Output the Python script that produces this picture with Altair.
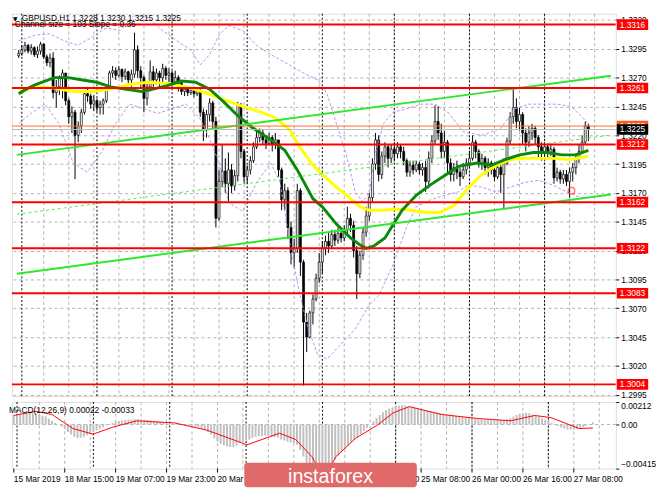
import altair as alt
import pandas as pd

FONT = "Liberation Sans"

# ---------------- data (prices as pips above 1.3000) ----------------
first_open = 289
close_pips = [291,294,298,293,296,290,293,299,288,283,287,257,262,270,274,250,236,240,220,228,
              240,256,254,247,250,244,247,250,262,274,276,272,277,271,275,268,273,294,276,270,
              252,262,275,268,274,270,278,272,274,266,270,265,258,260,257,259,256,258,240,225,
              238,248,232,148,180,189,178,190,176,185,246,206,184,190,198,210,218,222,216,213,
              218,212,216,190,164,172,140,118,122,172,110,58,45,66,78,96,110,122,128,124,
              134,129,135,131,138,148,142,120,100,116,136,150,166,195,216,186,202,210,200,208,
              204,210,206,198,188,194,190,195,190,192,180,200,215,232,222,206,214,196,186,192,
              188,184,190,196,200,214,206,196,200,192,196,190,184,192,186,196,215,236,244,232,
              238,222,214,222,226,218,210,206,210,205,208,183,188,182,186,180,188,192,200,206,
              214,228,225]
high_pips = [294,298,301,299,299,297,297,301,300,290,291,292,268,272,277,274,252,245,242,232,
             243,259,262,256,255,252,250,252,264,276,280,279,280,278,278,276,277,309,298,280,
             272,266,285,280,278,276,282,280,278,276,276,272,268,263,262,262,261,261,260,243,
             242,252,250,236,190,212,200,205,195,190,249,248,208,194,202,214,224,226,225,220,
             222,220,222,216,192,178,175,145,130,178,174,112,66,68,82,100,118,128,133,136,
             138,138,140,138,142,158,152,146,124,120,140,158,170,200,222,220,206,214,212,212,
             214,214,212,210,200,198,198,198,197,196,198,206,220,246,245,230,224,216,200,196,
             198,192,196,200,206,220,216,208,204,202,200,198,194,196,194,200,218,240,261,252,
             244,240,226,228,230,228,220,214,214,212,212,210,192,190,190,190,192,196,204,212,
             220,232,230]
low_pips = [287,289,292,291,290,288,287,290,286,280,279,252,244,255,252,246,230,222,182,214,
            222,238,249,243,241,240,238,238,248,260,270,268,270,266,268,265,262,270,270,262,
            240,246,258,262,264,262,266,268,266,262,263,258,255,254,254,255,253,254,236,215,
            218,232,226,140,146,175,170,162,170,172,180,200,178,178,186,196,208,214,212,208,
            212,206,208,184,155,155,130,108,105,118,98,3,32,44,56,76,92,100,116,118,
            122,124,126,127,128,134,136,114,78,96,112,132,146,162,190,180,182,196,192,196,
            198,200,200,194,184,184,186,188,186,185,171,174,196,212,216,200,200,188,180,180,
            182,176,182,186,192,198,200,192,190,186,184,186,180,182,170,156,194,212,230,226,
            224,212,206,210,216,212,200,198,202,200,202,178,180,178,178,176,166,180,186,196,
            204,212,215]

# moving averages (bar index, pips)
green_bar = [0, 2.4, 5.4, 11.4, 15.9, 20.4, 24.9, 29.4, 33.9, 39.3, 42.9, 47.4, 52, 56.5, 61, 65.5,
             70, 74.5, 80.5, 85, 89, 94, 97, 101.5, 106, 109, 111, 113.5, 117, 119.5, 122.5, 127,
             131.5, 136, 140.5, 146.5, 151, 155.5, 160, 164.5, 169, 173.5, 178, 182]
green_pips = [256, 260, 264, 270, 270, 268, 266, 262, 260, 258, 260, 263, 267, 266, 260, 249,
              237, 227, 216, 207, 190, 165, 158, 143, 131, 125, 122, 124, 131, 142, 155, 168,
              177, 185, 193, 196, 194, 199, 203, 205, 205, 203, 203, 207]
yellow_bar = [0, 5.4, 11.4, 17.4, 23.4, 29.4, 35.4, 41.4, 47.4, 53.5, 59.5, 65.5, 71.5, 77.5, 82,
              86.5, 89.5, 94, 97, 101.5, 106, 109, 112, 116.5, 121, 125.5, 130, 134.5, 139, 143.5,
              148, 152.5, 157, 161.5, 166, 170.5, 176.5, 182]
yellow_pips = [258, 262, 261, 258, 258, 260, 264, 266, 265, 262, 257, 251, 245, 240, 235, 225,
               211, 194, 186, 175, 165, 158, 155, 155, 156, 155, 153, 153, 159, 174, 186, 194,
               199, 200, 200, 200, 199, 202]

# Bollinger envelopes (bar index, pips)
bbu_bar = [0, 5.4, 9.9, 14.4, 18.9, 23.4, 27.9, 32.4, 36.9, 41.4, 45.9, 50.5, 55, 58, 61, 64, 67,
           71.5, 76, 80.5, 86.5, 91, 95.5, 98.5, 101.5, 104.5, 107.5, 110, 112, 114, 116.5, 119.5,
           124, 128.5, 133, 137.5, 142, 148, 154, 158.5, 163, 167.5, 172, 176.5, 179.5, 182]
bbu_pips = [302, 307, 308, 302, 298, 305, 313, 311, 324, 322, 311, 302, 294, 281, 290, 307, 315,
            311, 298, 290, 281, 274, 268, 256, 230, 205, 171, 162, 171, 205, 230, 240, 243, 247,
            247, 239, 223, 220, 226, 243, 247, 247, 247, 245, 237, 230]
bbl_bar = [0, 3.9, 8.4, 12.9, 17.4, 21.9, 26.4, 30.9, 35.4, 39.9, 44.4, 48.9, 53.5, 58, 61, 64,
           67, 71.5, 76, 80.5, 83.5, 86.5, 89.5, 92.5, 95.5, 98.5, 103, 107.5, 112, 115, 119.5,
           124, 127, 131.5, 136, 140.5, 143.5, 148, 152.5, 157, 161.5, 166, 170.5, 175, 179.5, 182]
bbl_pips = [230, 239, 247, 230, 196, 188, 205, 230, 247, 243, 239, 243, 247, 234, 217, 196, 162,
            154, 179, 196, 179, 128, 86, 52, 30, 26, 39, 52, 73, 81, 107, 141, 158, 164, 168, 171,
            177, 175, 171, 175, 179, 181, 177, 171, 166, 166]

# regression channel (end points)
chan_bar = [-0.6, 189.2]
chan_upper = [1.32030, 1.32717]
chan_mid = [1.31515, 1.32202]
chan_lower = [1.31000, 1.31687]

red_levels = [1.3316, 1.3261, 1.3212, 1.3162, 1.3122, 1.3083, 1.3004]
bid_price, ask_price = 1.3225, 1.3228
marker_bar, marker_price = 176.6, 1.3172

# MACD (units of 0.00001)
macd_hist = [90,95,100,105,110,110,105,100,95,85,75,55,35,
             15,0,-20,-45,
             -70,-95,-115,-127,-125,-115,-100,-85,-70,
             -55,-40,-25,-10,5,15,
             25,32,38,42,46,48,50,50,48,45,42,38,34,30,26,22,18,
             12,8,4,0,-4,-8,-12,-15,-20,-28,-40,-55,
             -70,-95,-130,-160,-180,-195,-205,-212,-215,-200,-175,-165,
             -150,-140,-125,-115,-110,-108,-105,-108,-112,-118,-125,-140,-150,-160,-170,-175,
             -190,-240,-300,-360,-420,-470,-500,-500,-480,
             -450,-410,-370,-330,-295,-262,-230,-200,-170,-145,-120,-90,-60,-30,
             0,30,60,90,115,135,150,162,172,178,180,178,172,165,
             158,150,142,135,128,122,118,112,106,100,95,90,85,80,75,70,68,65,
             60,55,50,47,44,42,40,40,40,42,45,50,60,
             75,90,100,108,110,105,95,85,
             72,58,45,30,15,0,-15,-28,-38,-46,-50,
             -48,-42,-35,-25,-12,5,22]
sig_bar = [0, 6.9, 12, 18.6, 24.9, 31.2, 38.7, 50.5, 60.7, 73.3, 83.5, 88.6, 93.7, 95.5, 97.5,
           99.5, 101.2, 107.5, 114.1, 119.2, 124.3, 134.5, 146, 156.2, 163.7, 168.8, 177.7, 182]
sig_val = [85, 124, 94, -38, -91, -24, 35, 15, -53, -191, -82, -141, -303, -400, -440, -400,
           -303, -127, -9, 109, 168, 94, 56, 35, 85, 65, -38, -33]

label_bars = [0, 16, 32, 48, 64, 80, 96, 112, 128, 144, 160, 176]
label_texts = ["15 Mar 2019", "18 Mar 15:00", "19 Mar 07:00", "19 Mar 23:00", "20 Mar 15:00",
               "21 Mar 07:00", "21 Mar 23:00", "22 Mar 15:00", "25 Mar 08:00", "26 Mar 00:00",
               "26 Mar 16:00", "27 Mar 08:00"]
grid_bars = list(range(8, 189, 8))
day_sep_bars = [1, 25, 49, 73, 97, 120, 144, 168]
price_ticks = [1.2995, 1.3020, 1.3045, 1.3070, 1.3095, 1.3120, 1.3145, 1.3170, 1.3195,
               1.3220, 1.3245, 1.3270, 1.3295, 1.3320]

# ---------------- frames ----------------
def pp(v):
    return round(1.3 + v / 10000.0, 5)

open_pips = [first_open] + close_pips[:-1]
candles = pd.DataFrame({
    "bar": list(range(len(close_pips))),
    "open": [pp(v) for v in open_pips],
    "close": [pp(v) for v in close_pips],
    "high": [pp(v) for v in high_pips],
    "low": [pp(v) for v in low_pips],
})
candles["bull"] = candles["close"] >= candles["open"]

def line_df(bars, pips, name):
    return pd.DataFrame({"bar": bars, "price": [pp(v) for v in pips], "s": name})

green_df = line_df(green_bar, green_pips, "g")
yellow_df = line_df(yellow_bar, yellow_pips, "y")
bb_df = pd.concat([line_df(bbu_bar, bbu_pips, "u"), line_df(bbl_bar, bbl_pips, "l")])
chan_solid = pd.concat([
    pd.DataFrame({"bar": chan_bar, "price": chan_upper, "s": "u"}),
    pd.DataFrame({"bar": chan_bar, "price": chan_lower, "s": "l"}),
])
chan_dash = pd.DataFrame({"bar": chan_bar, "price": chan_mid})
levels_df = pd.DataFrame({"price": red_levels, "label": [f"{v:.4f}" for v in red_levels]})

W = 616
H_MAIN = 390
H_MACD = 68
GRID = "#b0b0b0"
xs = alt.Scale(domain=[-0.6, 189.2], nice=False, zero=False)
ys = alt.Scale(domain=[1.299385, 1.33254], nice=False, zero=False)

def xq(field="bar"):
    return alt.X(f"{field}:Q", scale=xs, axis=None)

AX = alt.Axis(orient="right", values=price_ticks, format=".4f", title=None,
              grid=True, gridDash=[3, 3], gridColor=GRID, domain=False,
              tickSize=3, tickColor="#000", labelFont=FONT, labelFontSize=8.5,
              labelColor="#000", labelPadding=2, zindex=0)

def yq(field="price"):
    return alt.Y(f"{field}:Q", scale=ys, axis=AX, title=None)

base_grid = alt.Chart(pd.DataFrame({"bar": grid_bars})).mark_rule(
    color=GRID, strokeDash=[3, 3], strokeWidth=1).encode(x=xq())
base_sep = alt.Chart(pd.DataFrame({"bar": day_sep_bars})).mark_rule(
    color="#000", strokeDash=[2, 2], strokeWidth=1).encode(x=xq())

wicks = alt.Chart(candles).mark_rule(color="#000", strokeWidth=1, clip=True).encode(
    x=xq(), y=yq("low"), y2="high:Q")
bodies = alt.Chart(candles).mark_bar(width=2, stroke="#000", strokeWidth=0.7, clip=True).encode(
    x=xq(), y=yq("open"), y2="close:Q",
    fill=alt.condition("datum.bull", alt.value("#ffffff"), alt.value("#000000")))

bb = alt.Chart(bb_df).mark_line(color="#c58ce6", strokeDash=[3, 2], strokeWidth=1, clip=True).encode(
    x=xq(), y=yq(), detail="s:N")
yellow = alt.Chart(yellow_df).mark_line(color="#ffff00", strokeWidth=3, clip=True).encode(x=xq(), y=yq())
green = alt.Chart(green_df).mark_line(color="#0a8a0a", strokeWidth=3, clip=True).encode(x=xq(), y=yq())
chan1 = alt.Chart(chan_solid).mark_line(color="#2ee82e", strokeWidth=2, clip=True).encode(
    x=xq(), y=yq(), detail="s:N")
chan2 = alt.Chart(chan_dash).mark_line(color="#4ef04e", strokeWidth=1, strokeDash=[3, 3], clip=True).encode(
    x=xq(), y=yq())

price_lines = alt.Chart(pd.DataFrame({"price": [ask_price, bid_price], "c": ["a", "b"]})).mark_rule(
    strokeWidth=1, clip=True).encode(
    y=yq(), color=alt.Color("c:N", scale=alt.Scale(domain=["a", "b"], range=["#ff6a2a", "#b8b8b8"]),
                            legend=None))
levels = alt.Chart(levels_df).mark_rule(color="#ff0000", strokeWidth=2, clip=True).encode(y=yq())
marker = alt.Chart(pd.DataFrame({"bar": [marker_bar], "price": [marker_price]})).mark_point(
    shape="circle", size=45, color="#ff3030", filled=False, strokeWidth=1.3, clip=True).encode(x=xq(), y=yq())

HALF = 0.00046
def box(df, color, text_color="#ffffff"):
    r = alt.Chart(df).transform_calculate(
        top=f"datum.price + {HALF}", bot=f"datum.price - {HALF}"
    ).mark_rect(color=color).encode(
        x=alt.value(W + 1), x2=alt.value(W + 33),
        y=yq("top"), y2="bot:Q")
    t = alt.Chart(df).mark_text(color=text_color, font=FONT, fontSize=8.5, align="center",
                                baseline="middle").encode(
        x=alt.value(W + 17), y=yq(), text="label:N")
    return r + t

level_boxes = box(levels_df, "#ff0000")
ask_box = box(pd.DataFrame({"price": [ask_price], "label": ["1.3228"]}), "#ff5a20")
bid_box = box(pd.DataFrame({"price": [bid_price], "label": ["1.3225"]}), "#000000")

header = alt.Chart(pd.DataFrame({"t": ["GBPUSD,H1  1.3228 1.3230 1.3215 1.3225"]})).mark_text(
    font=FONT, fontSize=8.5, align="left", baseline="top", color="#000").encode(
    x=alt.value(10), y=alt.value(0), text="t:N")
tri = alt.Chart(pd.DataFrame({"t": ["▼"]})).mark_text(
    font="DejaVu Sans", fontSize=6, align="left", baseline="top", color="#000").encode(
    x=alt.value(1), y=alt.value(2), text="t:N")
chan_txt = alt.Chart(pd.DataFrame({"t": ["Channel size = 103 Slope = 0.36"]})).mark_text(
    font=FONT, fontSize=8.5, align="left", baseline="top", color="#000").encode(
    x=alt.value(3), y=alt.value(7), text="t:N")

main = alt.layer(
    base_grid, base_sep, wicks, bodies, bb, yellow, green, chan1, chan2,
    price_lines, levels, marker, header, tri, chan_txt, level_boxes, ask_box, bid_box
).properties(width=W, height=H_MAIN)

# ---------------- MACD ----------------
mys = alt.Scale(domain=[-0.00415, 0.00212], nice=False, zero=False)
hist_df = pd.DataFrame({"bar": list(range(len(macd_hist))), "v": [h / 100000.0 for h in macd_hist]})
sig_df = pd.DataFrame({"bar": sig_bar, "v": [s / 100000.0 for s in sig_val]})
MY = alt.Y("v:Q", scale=mys,
           axis=alt.Axis(orient="right", values=[0.00212, 0, -0.00415], title=None, grid=False,
                         domain=False, tickSize=3, tickColor="#000", labelFont=FONT,
                         labelFontSize=8.5, labelColor="#000", labelPadding=2, labelFlush=True,
                         labelExpr="datum.value == 0 ? '0.00' : format(datum.value, '.5f')"))

m_grid = alt.Chart(pd.DataFrame({"bar": grid_bars})).mark_rule(
    color=GRID, strokeDash=[3, 3], strokeWidth=1).encode(x=xq())
m_zero = alt.Chart(pd.DataFrame({"v": [0.0]})).mark_rule(
    color=GRID, strokeDash=[3, 3], strokeWidth=1).encode(y=MY)
hist = alt.Chart(hist_df).mark_rule(color="#c0c0c0", strokeWidth=2, clip=True).encode(
    x=xq(), y=MY, y2=alt.Y2Datum(0))
sig = alt.Chart(sig_df).mark_line(color="#ff0000", strokeWidth=1, clip=True).encode(x=xq(), y=MY)
macd_txt = alt.Chart(pd.DataFrame({"t": ["MACD(12,26,9) 0.00022 -0.00033"]})).mark_text(
    font=FONT, fontSize=8.5, align="left", baseline="top", color="#000").encode(
    x=alt.value(-3), y=alt.value(4), text="t:N")

lab_df = pd.DataFrame({"bar": label_bars, "t": label_texts})
xticks = alt.Chart(lab_df).mark_rule(color="#000", strokeWidth=1).encode(
    x=xq(), y=alt.value(H_MACD), y2=alt.value(H_MACD + 4))
xlabels = alt.Chart(lab_df).mark_text(font=FONT, fontSize=8.5, align="left", baseline="top",
                                      color="#000").encode(
    x=xq(), y=alt.value(H_MACD + 7), text="t:N")
wm_rect = alt.Chart(pd.DataFrame({"a": [1]})).mark_rect(color="#e06a6a", cornerRadius=3).encode(
    x=alt.value(237), x2=alt.value(413), y=alt.value(62), y2=alt.value(87))
wm_text = alt.Chart(pd.DataFrame({"t": ["instaforex"]})).mark_text(
    font=FONT, fontSize=20, align="center", baseline="alphabetic", color="#ffffff").encode(
    x=alt.value(325), y=alt.value(83), text="t:N")

macd = alt.layer(
    m_grid, base_sep, m_zero, hist, sig, macd_txt, xticks, xlabels, wm_rect, wm_text
).properties(width=W, height=H_MACD)

chart = alt.vconcat(main, macd, spacing=6, bounds="flush").properties(
    padding={"left": 0, "top": 0, "right": 0, "bottom": 0}
).configure_view(stroke="#000", strokeWidth=1).configure(background="#ffffff")

chart.save("out.html", embed_options={"renderer": "svg", "actions": False})
